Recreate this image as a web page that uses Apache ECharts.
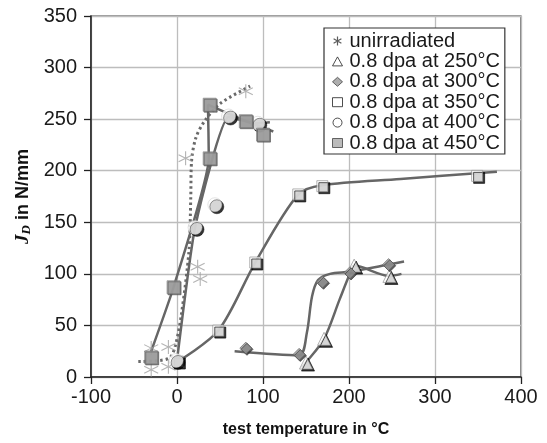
<!DOCTYPE html>
<html><head><meta charset="utf-8">
<script src="https://cdn.jsdelivr.net/npm/echarts@6/dist/echarts.min.js"></script>
<style>html,body{margin:0;padding:0;background:#fff}#c{width:547px;height:443px}</style>
</head><body><div id="c"></div>
<script>
// ---- data ----
var xTicks = [-100, 0, 100, 200, 300, 400];
var yTicks = [0, 50, 100, 150, 200, 250, 300, 350];
var seriesNames = ['unirradiated', '0.8 dpa at 250°C', '0.8 dpa at 300°C', '0.8 dpa at 350°C', '0.8 dpa at 400°C', '0.8 dpa at 450°C'];

var unirrPts = [[-30,28],[-30,7],[-10,29],[-10,10],[10,212],[24,107],[27,95],[80,277]];
var unirrCurve = [[-45,15],[-20,16],[-8,19],[-2,30],[5,60],[14,123],[16,174],[17,210],[22,232],[32,248],[50,265],[85,282]];

var d250Pts = [[150,14],[171,37],[206,108],[247,98]];
var d250Curve = [[145,9],[150,14],[171,37],[189,75],[201,100],[206,108],[247,98],[261,100]];

var d300Pts = [[80,28],[142,22],[169,92],[201,101],[246,109]];
var d300Curve = [[67,25],[142,21],[151,43],[157,78],[164,94],[178,100],[201,102],[246,109],[264,112]];

var d350Pts = [[1,15],[48,45],[91,111],[141,177],[169,185],[349,195]];
var d350Curve = [[1,15],[48,45],[91,111],[141,177],[169,186],[260,192],[372,199]];

var d400Pts = [[-1,16],[21,145],[44,167],[60,253],[94,246]];
var d400Curve = [[0,16],[21,145],[60,252],[93,246],[108,247]];

var d450Pts = [[-30,19],[-4,87],[38,212],[38,264],[80,248],[100,235]];
var d450Curve = [[-30,25],[-4,87],[37,212],[36,264],[80,248],[112,238]];

var asterisk = 'path://M5,0 L5,10 M0.67,2.5 L9.33,7.5 M0.67,7.5 L9.33,2.5';

function shadowed(style, off, col) {
  style.shadowColor = col || '#000'; style.shadowBlur = 0;
  style.shadowOffsetX = off; style.shadowOffsetY = off;
  return style;
}
function curve(data, dotted, sm) {
  return {type:'line', data:data, smooth: sm === undefined ? 0.3 : sm, symbol:'none', silent:true, z:2,
    lineStyle:{color: dotted ? '#6a6a6a' : '#666', width: dotted ? 3 : 2.5, type: dotted ? [2.5,3] : 'solid'}};
}
function pts(name, data, symbol, size, style) {
  return {type:'scatter', name:name, data:data, symbol:symbol, symbolSize:size, z:3, itemStyle: style};
}

var legendIcon = [
  {borderColor:'#333', borderWidth:1.2, color:'transparent'},
  {color:'#fff', borderColor:'#222', borderWidth:1},
  {color:'#9a9a9a', borderColor:'#444', borderWidth:1},
  {color:'#fff', borderColor:'#222', borderWidth:1},
  {color:'#fff', borderColor:'#222', borderWidth:1},
  {color:'#aaa', borderColor:'#444', borderWidth:1}
];

var chart = echarts.init(document.getElementById('c'), null, {renderer:'canvas'});
chart.setOption({
  animation:false,
  backgroundColor:'#fff',
  grid:{left:91, right:26, top:16, bottom:62, show:true, borderColor:'#333', borderWidth:1.2, backgroundColor:'transparent'},
  legend:{
    data: seriesNames.map(function(n, i){
      var st = legendIcon[i];
      st.shadowBlur = 0; st.shadowOffsetX = 0; st.shadowOffsetY = 0; st.shadowColor = 'transparent';
      return {name:n, itemStyle: st};
    }),
    orient:'vertical', left:324, top:28, itemGap:0.4, itemWidth:10, itemHeight:9,
    padding:[3, 5, 1, 8],
    backgroundColor:'#fff', borderColor:'#333', borderWidth:1.2,
    textStyle:{fontFamily:'Liberation Sans, Arial', fontSize:20, color:'#1a1a1a', lineHeight:20, padding:[0,0,0,2]}
  },
  xAxis:{
    type:'value', min:xTicks[0], max:xTicks[xTicks.length-1], interval:100,
    name:'test temperature in °C', nameLocation:'middle', nameGap:45,
    nameTextStyle:{fontFamily:'Liberation Sans, Arial', fontWeight:'bold', fontSize:16, color:'#111'},
    axisLine:{show:true, onZero:false, lineStyle:{color:'#222', width:1.5}},
    axisTick:{show:true, inside:false, length:7, lineStyle:{color:'#222', width:1.3}},
    axisLabel:{fontFamily:'Liberation Sans, Arial', fontSize:20, color:'#1a1a1a', margin:10},
    splitLine:{show:true, lineStyle:{color:'#bdbdbd', width:1.3}}
  },
  yAxis:{
    type:'value', min:yTicks[0], max:yTicks[yTicks.length-1], interval:50,
    name:'{i|J}{s|D}{b| in N/mm}', nameLocation:'middle', nameGap:58, nameRotate:90,
    nameTextStyle:{fontFamily:'Liberation Sans, Arial', fontWeight:'bold', fontSize:18, color:'#111',
      rich:{
        i:{fontFamily:'Liberation Serif, Times New Roman', fontStyle:'italic', fontWeight:'bold', fontSize:19, color:'#111'},
        s:{fontFamily:'Liberation Serif, Times New Roman', fontStyle:'italic', fontWeight:'bold', fontSize:13, color:'#111', padding:[6,0,0,0]},
        b:{fontFamily:'Liberation Sans, Arial', fontWeight:'bold', fontSize:18, color:'#111'}
      }},
    axisLine:{show:true, onZero:false, lineStyle:{color:'#222', width:1.5}},
    axisTick:{show:true, inside:false, length:7, lineStyle:{color:'#222', width:1.3}},
    axisLabel:{fontFamily:'Liberation Sans, Arial', fontSize:20, color:'#1a1a1a', margin:14},
    splitLine:{show:true, lineStyle:{color:'#bdbdbd', width:1.3}}
  },
  series:[
    curve(unirrCurve, true),
    curve(d250Curve), curve(d300Curve), curve(d350Curve), curve(d400Curve, false, 0.15), curve(d450Curve, false, 0.15),
    pts(seriesNames[0], unirrPts, asterisk, 14, {color:'transparent', borderColor:'#a0a0a0', borderWidth:1.1}),
    pts(seriesNames[1], d250Pts, 'triangle', 13, shadowed({color:'#fff', borderColor:'#888', borderWidth:0.8}, 2)),
    pts(seriesNames[2], d300Pts, 'diamond', 12, shadowed({color:'#9a9a9a', borderColor:'#666', borderWidth:0.8}, 1.2, '#333')),
    pts(seriesNames[3], d350Pts, 'rect', 11, shadowed({color:'#fff', borderColor:'#888', borderWidth:0.8}, 2)),
    pts(seriesNames[4], d400Pts, 'circle', 14, shadowed({color:'#fff', borderColor:'#bbb', borderWidth:0.5}, 2)),
    pts(seriesNames[5], d450Pts, 'rect', 13, shadowed({color:'#aaaaaa', borderColor:'#777', borderWidth:0.8}, 1, '#555'))
  ]
});
</script></body></html>
